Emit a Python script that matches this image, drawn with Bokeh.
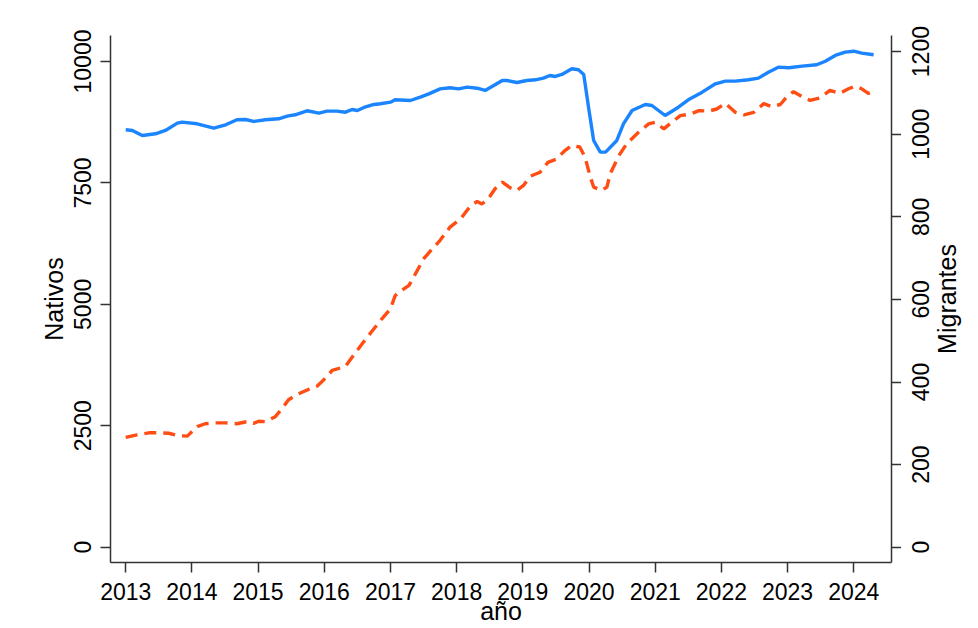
import math
from bokeh.plotting import figure
from bokeh.layouts import row
from bokeh.models import Range1d, LinearAxis, FixedTicker
from bokeh.core.properties import value
from bokeh.embed import file_html
from bokeh.resources import INLINE

# ---- data ----
nat_t = [2013.00, 2013.10, 2013.25, 2013.45, 2013.60, 2013.78, 2013.85, 2014.08, 2014.33, 2014.51,
         2014.68, 2014.81, 2014.93, 2015.11, 2015.31, 2015.44, 2015.56, 2015.74, 2015.92, 2016.04,
         2016.19, 2016.32, 2016.42, 2016.50, 2016.60, 2016.75, 2016.85, 2017.00, 2017.07, 2017.30,
         2017.45, 2017.58, 2017.75, 2017.90, 2018.03, 2018.16, 2018.31, 2018.43, 2018.56, 2018.69,
         2018.76, 2018.91, 2019.06, 2019.19, 2019.31, 2019.41, 2019.49, 2019.59, 2019.74, 2019.84,
         2019.92, 2020.00, 2020.07, 2020.17, 2020.25, 2020.42, 2020.52, 2020.65, 2020.85, 2020.95,
         2021.15, 2021.35, 2021.50, 2021.71, 2021.91, 2022.06, 2022.21, 2022.41, 2022.56, 2022.71,
         2022.86, 2023.02, 2023.22, 2023.44, 2023.57, 2023.72, 2023.87, 2024.00, 2024.12, 2024.30]
nativos = [8594, 8580, 8477, 8511, 8580, 8730, 8751, 8717, 8627, 8697,
           8800, 8806, 8765, 8800, 8820, 8874, 8903, 8985, 8936, 8977,
           8977, 8956, 9012, 8991, 9053, 9115, 9129, 9162, 9211, 9197,
           9265, 9334, 9437, 9458, 9437, 9471, 9450, 9403, 9506, 9609,
           9609, 9568, 9609, 9623, 9657, 9712, 9691, 9733, 9850, 9829,
           9733, 8991, 8374, 8133, 8133, 8374, 8717, 8991, 9115, 9094,
           8888, 9059, 9211, 9368, 9541, 9595, 9595, 9623, 9657, 9780,
           9883, 9870, 9904, 9932, 10006, 10124, 10192, 10212, 10171, 10138]

mig_t = [2013.00, 2013.17, 2013.35, 2013.50, 2013.65, 2013.80, 2013.93, 2014.08, 2014.20, 2014.35,
         2014.51, 2014.68, 2014.83, 2014.93, 2015.01, 2015.11, 2015.26, 2015.36, 2015.46, 2015.59,
         2015.76, 2015.89, 2015.99, 2016.12, 2016.32, 2016.42, 2016.57, 2016.72, 2016.87, 2017.00,
         2017.07, 2017.15, 2017.28, 2017.35, 2017.50, 2017.63, 2017.75, 2017.90, 2018.06, 2018.21,
         2018.31, 2018.38, 2018.48, 2018.58, 2018.69, 2018.81, 2018.91, 2019.01, 2019.11, 2019.26,
         2019.38, 2019.51, 2019.64, 2019.74, 2019.86, 2019.94, 2020.02, 2020.07, 2020.19, 2020.27,
         2020.32, 2020.45, 2020.57, 2020.75, 2020.90, 2021.00, 2021.13, 2021.25, 2021.38, 2021.53,
         2021.66, 2021.81, 2021.93, 2022.06, 2022.21, 2022.34, 2022.49, 2022.64, 2022.76, 2022.89,
         2022.99, 2023.09, 2023.22, 2023.34, 2023.49, 2023.64, 2023.79, 2023.92, 2024.02, 2024.12,
         2024.22, 2024.33]
migrantes = [266, 272, 277, 277, 276, 270, 269, 292, 299, 301,
             301, 299, 304, 300, 305, 304, 316, 335, 357, 370,
             382, 390, 405, 428, 438, 460, 492, 523, 553, 577,
             609, 620, 634, 654, 698, 722, 743, 775, 795, 827,
             837, 831, 844, 868, 884, 870, 864, 876, 898, 908,
             932, 940, 961, 973, 969, 944, 896, 872, 864, 872,
             904, 948, 977, 1005, 1025, 1029, 1013, 1029, 1045, 1049,
             1057, 1056, 1061, 1075, 1053, 1047, 1053, 1074, 1067, 1072,
             1091, 1103, 1091, 1082, 1088, 1106, 1099, 1110, 1116, 1110,
             1099, 1103]

year_ticks = [2013, 2014, 2015, 2016, 2017, 2018, 2019, 2020, 2021, 2022, 2023, 2024]
nat_ticks = [0, 2500, 5000, 7500, 10000]
mig_ticks = [0, 200, 400, 600, 800, 1000, 1200]

FONT = "Liberation Sans"
FS = "23px"
TS = "25px"
AX = "#333333"
H = 628
TOP, BOTTOM = 35, 66
MIG_RANGE = (-37, 1239)

# ---------------- main plot ----------------
p = figure(width=901, height=H, output_backend="svg", toolbar_location=None,
           x_range=Range1d(2012.77, 2024.57), y_range=Range1d(-315, 10535),
           y_axis_location=None, x_axis_location=None,
           min_border_left=110, min_border_right=10, min_border_top=TOP, min_border_bottom=BOTTOM)
p.extra_y_ranges = {"mig": Range1d(*MIG_RANGE)}
p.outline_line_color = None
p.grid.visible = False
p.background_fill_color = "white"
p.border_fill_color = "white"
p.frame_align = False

def style(ax, label):
    if label:
        ax.axis_label = label
    ax.axis_label_text_font = FONT
    ax.axis_label_text_font_size = TS
    ax.axis_label_text_font_style = "normal"
    ax.axis_label_text_color = "black"
    ax.major_label_text_font = FONT
    ax.major_label_text_font_size = FS
    ax.major_label_text_color = "black"
    ax.axis_line_color = AX
    ax.axis_line_width = 1.5
    ax.major_tick_line_color = AX
    ax.major_tick_line_width = 1.5
    ax.major_tick_out = 10
    ax.major_tick_in = 0
    ax.minor_tick_line_color = None

xax = LinearAxis(ticker=FixedTicker(ticks=year_ticks))
style(xax, "año")
xax.major_label_standoff = 10
xax.axis_label_standoff = -6
p.add_layout(xax, "below")

lax = LinearAxis(ticker=FixedTicker(ticks=nat_ticks))
style(lax, "Nativos")
lax.major_label_orientation = "vertical"
lax.major_label_standoff = 9
lax.axis_label_standoff = 4
p.add_layout(lax, "left")

# right axis: line + ticks only; its bottom-to-top labels are drawn in the side strip
rax = LinearAxis(y_range_name="mig", ticker=FixedTicker(ticks=mig_ticks))
style(rax, None)
rax.major_label_overrides = {v: "" for v in mig_ticks}
rax.major_label_text_color = None
rax.major_label_standoff = 0
p.add_layout(rax, "right")

p.line(nat_t, nativos, line_color="#1a85ff", line_width=3.4)
p.line(mig_t, migrantes, y_range_name="mig", line_color="#ff4d14", line_width=3.4,
       line_dash="12 7")

# ---------------- right strip with rotated texts (same vertical scale) ----------------
frame_h = H - TOP - BOTTOM
upp = (MIG_RANGE[1] - MIG_RANGE[0]) / frame_h          # migrant units per pixel
q_range = Range1d(MIG_RANGE[0] - BOTTOM * upp, MIG_RANGE[1] + TOP * upp)

q = figure(width=77, height=H, output_backend="svg", toolbar_location=None,
           x_range=Range1d(0, 77), y_range=q_range,
           x_axis_location=None, y_axis_location=None,
           min_border_left=0, min_border_right=0, min_border_top=0, min_border_bottom=0)
q.outline_line_color = None
q.grid.visible = False
q.background_fill_color = "white"
q.border_fill_color = "white"
q.frame_align = False

TICKLAB_X = 19.0   # baseline of tick labels within the strip
TITLE_X = 45.5     # baseline of the axis title within the strip

q.text(x=[TICKLAB_X] * len(mig_ticks), y=mig_ticks, text=[str(v) for v in mig_ticks],
       angle=math.pi / 2, text_align="center", text_baseline="alphabetic",
       text_font=value(FONT), text_font_size=value(FS), text_color="black")
q.text(x=[TITLE_X], y=[(MIG_RANGE[0] + MIG_RANGE[1]) / 2], text=["Migrantes"],
       angle=math.pi / 2, text_align="center", text_baseline="alphabetic",
       text_font=value(FONT), text_font_size=value(TS), text_color="black")

layout = row(p, q, spacing=0)
open("out.html", "w").write(file_html(layout, INLINE))
